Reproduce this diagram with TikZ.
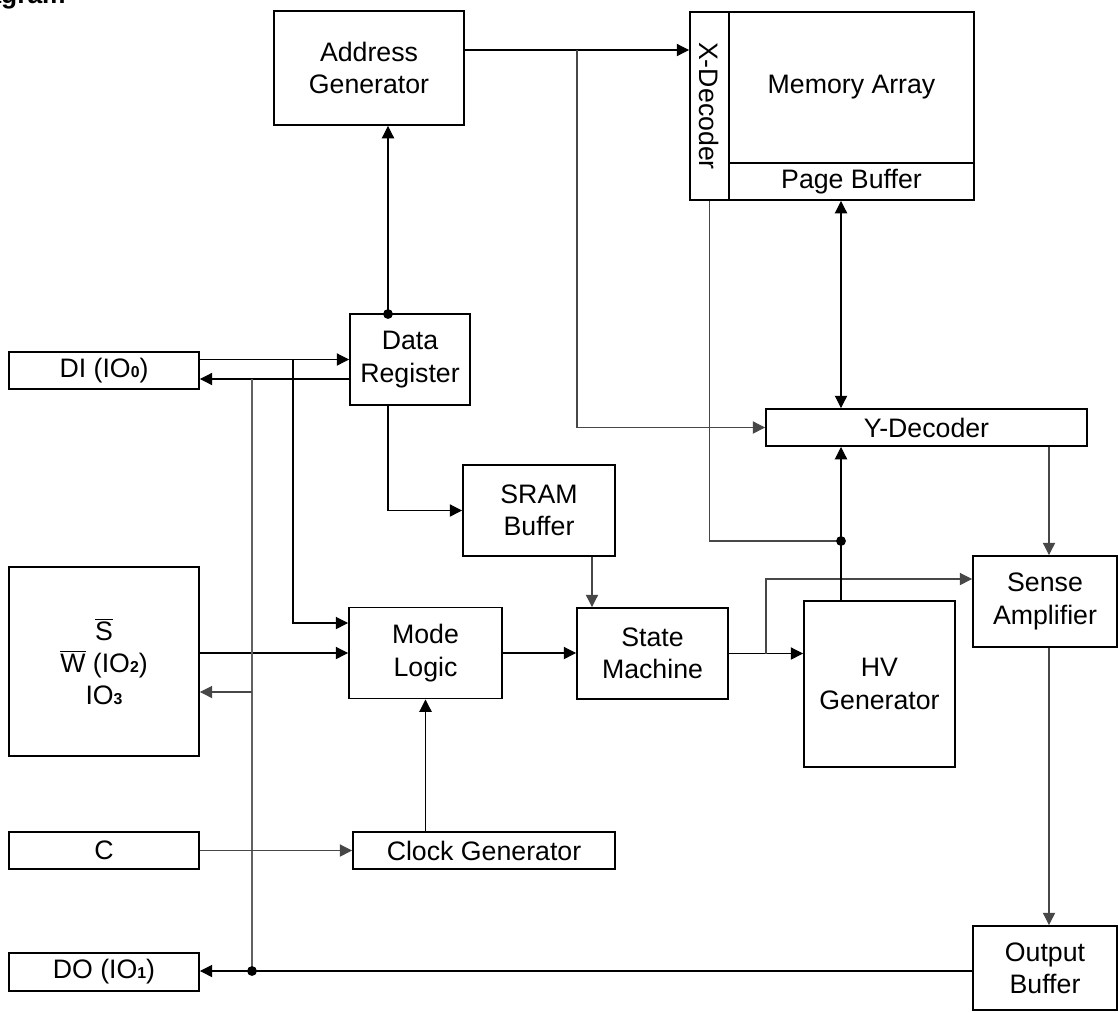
\documentclass[tikz,border=0pt]{standalone}
\usepackage{fontspec}
\setmainfont{Liberation Sans}
\usetikzlibrary{arrows.meta}
\newcommand{\iosub}[1]{{\fontsize{9}{9}\selectfont\bfseries #1}}
\tikzset{
  blk/.style={draw, line width=1.1pt, align=center, inner sep=0pt},
  conn/.style={draw, line width=0.6pt, -{Triangle[length=7pt,width=7pt]}},
  gconn/.style={conn, draw=black!72},
  wire/.style={draw, line width=0.6pt},
  dot/.style={circle, fill, inner sep=0pt, minimum size=5.6pt}
}
\begin{document}
\begin{tikzpicture}[x=0.02cm, y=-0.02cm, font=\fontsize{15.2}{18.4}\selectfont]
\useasboundingbox (0,0) rectangle (1118,1012);
\node[anchor=base east, inner sep=0pt, font=\bfseries\fontsize{15}{18}\selectfont] (title) at (66,3) {Diagram};

\node[blk, minimum width=3.8cm, minimum height=2.28cm] (addr) at (369,68) {Address\\Generator};
\node[blk, minimum width=0.78cm, minimum height=3.76cm] (xdec) at (709.5,106) {\rotatebox{-90}{X-Decoder}};
\node[blk, minimum width=4.9cm, minimum height=3.02cm] (mem) at (851.5,87.5) {Memory Array};
\node[blk, minimum width=4.9cm, minimum height=0.74cm] (page) at (851.5,181.5) {Page Buffer};
\node[blk, minimum width=2.4cm, minimum height=1.82cm] (data) at (410,359.5) {Data\\Register};
\node[blk, minimum width=3.8cm, minimum height=0.74cm] (di) at (104,370.5) {DI (IO\iosub{0})};
\node[blk, minimum width=6.42cm, minimum height=0.74cm] (ydec) at (926.5,427.5) {Y-Decoder};
\node[blk, minimum width=3.04cm, minimum height=1.82cm] (sram) at (539,510.5) {SRAM\\Buffer};
\node[blk, minimum width=3.8cm, minimum height=3.78cm] (sw) at (104,661.5) {$\overline{\hbox{S}}$\\$\overline{\hbox{W}}$ (IO\iosub{2})\\IO\iosub{3}};
\node[blk, minimum width=3.06cm, minimum height=1.82cm] (mode) at (425.5,653) {Mode\\Logic};
\node[blk, minimum width=3.02cm, minimum height=1.82cm] (sm) at (652.5,653.5) {State\\Machine};
\node[blk, minimum width=3.02cm, minimum height=3.32cm] (hv) at (879.5,684) {HV\\Generator};
\node[blk, minimum width=2.88cm, minimum height=1.82cm] (sense) at (1045,601.5) {Sense\\Amplifier};
\node[blk, minimum width=3.8cm, minimum height=0.74cm] (c) at (104,850.5) {C};
\node[blk, minimum width=5.24cm, minimum height=0.74cm] (clk) at (484,850.5) {Clock Generator};
\node[blk, minimum width=3.8cm, minimum height=0.76cm] (do) at (104,972) {DO (IO\iosub{1})};
\node[blk, minimum width=2.88cm, minimum height=1.68cm] (outbuf) at (1045,968) {Output\\Buffer};

\coordinate (abr) at (577,50);
\coordinate (dreg) at (388,314);
\coordinate (dibr) at (293,359.5);
\coordinate (iobr) at (252,379);
\coordinate (dobr) at (252,971);
\coordinate (smbr) at (766,653.5);
\coordinate (hvbr) at (841,541);

\path[conn] ([yshift=0.36cm]addr.east) -- ([yshift=0.36cm]addr.east -| xdec.west);
\path[gconn] (abr) |- (ydec.west);
\path[conn] (dreg) -- (dreg |- addr.south);
\node[dot] at (dreg) {};
\path[conn] (data.west -| di.east) -- (data.west);
\path[conn] ([yshift=-0.39cm]data.west) -- ([yshift=-0.39cm]data.west -| di.east);
\path[conn] (dibr) |- ([yshift=0.6cm]mode.west);
\path[conn] (sw.east |- mode.west) -- (mode.west);
\path[draw, draw=black!62, line width=1pt] (iobr) -- (dobr);
\path[gconn] (iobr |- 0,692) -- (sw.east |- 0,692);
\path[conn] (dobr -| outbuf.west) -- (dobr -| do.east);
\node[dot] at (dobr) {};
\path[gconn] (c.east) -- (clk.west);
\path[conn] (clk.north -| mode.south) -- (mode.south);
\path[conn] (dreg |- data.south) |- (sram.west);
\path[gconn] ([xshift=1.06cm]sram.south) -- ([xshift=1.06cm]sram.south |- sm.north);
\path[conn] (mode.east) -- (mode.east -| sm.west);
\path[conn] (sm.east) -- (sm.east -| hv.west);
\path[gconn] (smbr) |- ([yshift=0.45cm]sense.west);
\path[conn] (hvbr |- hv.north) -- (hvbr |- ydec.south);
\path[draw, draw=black!72, line width=0.6pt] (xdec.south) |- (hvbr);
\node[dot] at (hvbr) {};
\path[conn, {Triangle[length=7pt,width=7pt]}-{Triangle[length=7pt,width=7pt]}] (hvbr |- page.south) -- (hvbr |- ydec.north);
\path[gconn] ([xshift=0.08cm]sense.north |- ydec.south) -- ([xshift=0.08cm]sense.north);
\path[gconn] ([xshift=0.08cm]sense.south) -- ([xshift=0.08cm]outbuf.north);
\end{tikzpicture}
\end{document}
